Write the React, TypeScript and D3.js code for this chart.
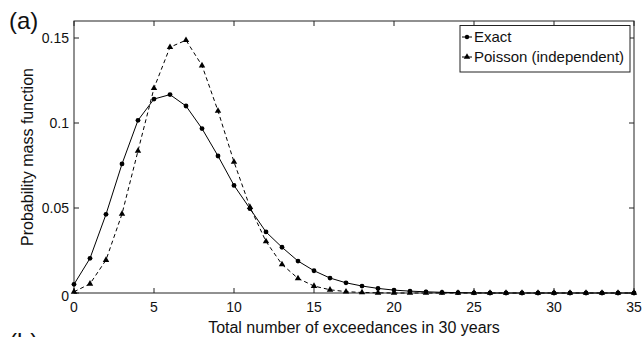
import React from "react";
import * as d3 from "d3";

const xValues = d3.range(0, 36);
const exactValues = [
  0.0051, 0.0204, 0.0463, 0.0759, 0.1016, 0.1141, 0.1167, 0.11, 0.0967, 0.0806,
  0.0633, 0.0496, 0.0359, 0.0269, 0.0188, 0.0131, 0.0088, 0.006, 0.0041, 0.0027,
  0.0017, 0.0011, 0.0007, 0.0004, 0.0002, 0.0001, 0, 0, 0, 0,
  0, 0, 0, 0, 0, 0,
];
const poissonValues = [
  0.0007, 0.0054, 0.0194, 0.0465, 0.0836, 0.1205, 0.1446, 0.1487, 0.1338, 0.1071,
  0.0771, 0.0505, 0.0303, 0.0168, 0.0086, 0.0041, 0.0019, 0.0008, 0.0003, 0.0001,
  0, 0, 0, 0, 0, 0, 0, 0, 0, 0,
  0, 0, 0, 0, 0, 0,
];
const xTicks = [0, 5, 10, 15, 20, 25, 30, 35];
const yTicks = [0, 0.05, 0.1, 0.15];
const yTickLabels = ["0", "0.05", "0.1", "0.15"];
const seriesNames = ["Exact", "Poisson (independent)"];
const xLabel = "Total number of exceedances in 30 years";
const yLabel = "Probability mass function";

const W = 642;
const H = 337;
const L = 74, R = 634, T = 21, B = 293;
const FONT = "'Liberation Sans', Arial, Helvetica, sans-serif";

export default function App() {
  const x = d3.scaleLinear().domain([0, 35]).range([L, R]);
  const y = d3.scaleLinear().domain([0, 0.16]).range([B, T]);
  const line = d3.line<number>().x((_, i) => x(xValues[i])).y((d) => y(d));
  const tri = d3.symbol().type(d3.symbolTriangle).size(18)();
  const axisColor = "#222";
  const tickLen = 5;

  return (
    <svg width={W} height={H} style={{ position: "absolute", left: 0, top: 0 }} fontFamily={FONT}>
      <rect x={0} y={0} width={W} height={H} fill="white" />
      <rect x={L} y={T} width={R - L} height={B - T} fill="none" stroke={axisColor} strokeWidth={1} />
      {xTicks.map((t) => (
        <g key={"xt" + t}>
          <line x1={x(t)} x2={x(t)} y1={B} y2={B - tickLen} stroke={axisColor} />
          <line x1={x(t)} x2={x(t)} y1={T} y2={T + tickLen} stroke={axisColor} />
          <text x={x(t)} y={B + 19} fontSize={14} textAnchor="middle" fill="#111">{t}</text>
        </g>
      ))}
      {yTicks.map((t, i) => (
        <g key={"yt" + t}>
          <line x1={L} x2={L + tickLen} y1={y(t)} y2={y(t)} stroke={axisColor} />
          <line x1={R} x2={R - tickLen} y1={y(t)} y2={y(t)} stroke={axisColor} />
          <text x={L - 5} y={y(t) + (i === 0 ? 8 : 5)} fontSize={14} textAnchor="end" fill="#111">{yTickLabels[i]}</text>
        </g>
      ))}
      <path d={line(exactValues) || ""} fill="none" stroke="#000" strokeWidth={1} />
      <path d={line(poissonValues) || ""} fill="none" stroke="#000" strokeWidth={1} strokeDasharray="4,3" />
      {exactValues.map((v, i) => (
        <circle key={"e" + i} cx={x(xValues[i])} cy={y(v)} r={2.4} fill="#000" />
      ))}
      {poissonValues.map((v, i) => (
        <path key={"p" + i} d={tri || ""} transform={`translate(${x(xValues[i])},${y(v)})`} fill="#000" />
      ))}
      <rect x={460} y={25.5} width={170} height={46.5} fill="white" stroke={axisColor} strokeWidth={1} />
      <line x1={462} x2={472} y1={37} y2={37} stroke="#000" />
      <circle cx={467} cy={37} r={2.2} fill="#000" />
      <text x={474} y={42} fontSize={15} fill="#111">{seriesNames[0]}</text>
      <line x1={462} x2={472} y1={57} y2={57} stroke="#000" strokeDasharray="4,3" />
      <path d={tri || ""} transform={`translate(467,57)`} fill="#000" />
      <text x={474} y={62} fontSize={15} fill="#111">{seriesNames[1]}</text>
      <text x={(L + R) / 2} y={333} fontSize={16} textAnchor="middle" fill="#111">{xLabel}</text>
      <text transform={`translate(33,${(T + B) / 2}) rotate(-90)`} fontSize={16} textAnchor="middle" fill="#111">{yLabel}</text>
      <text x={9} y={29} fontSize={24} fill="#111">(a)</text>
      <text x={9} y={350} fontSize={24} fill="#111">(b)</text>
    </svg>
  );
}
